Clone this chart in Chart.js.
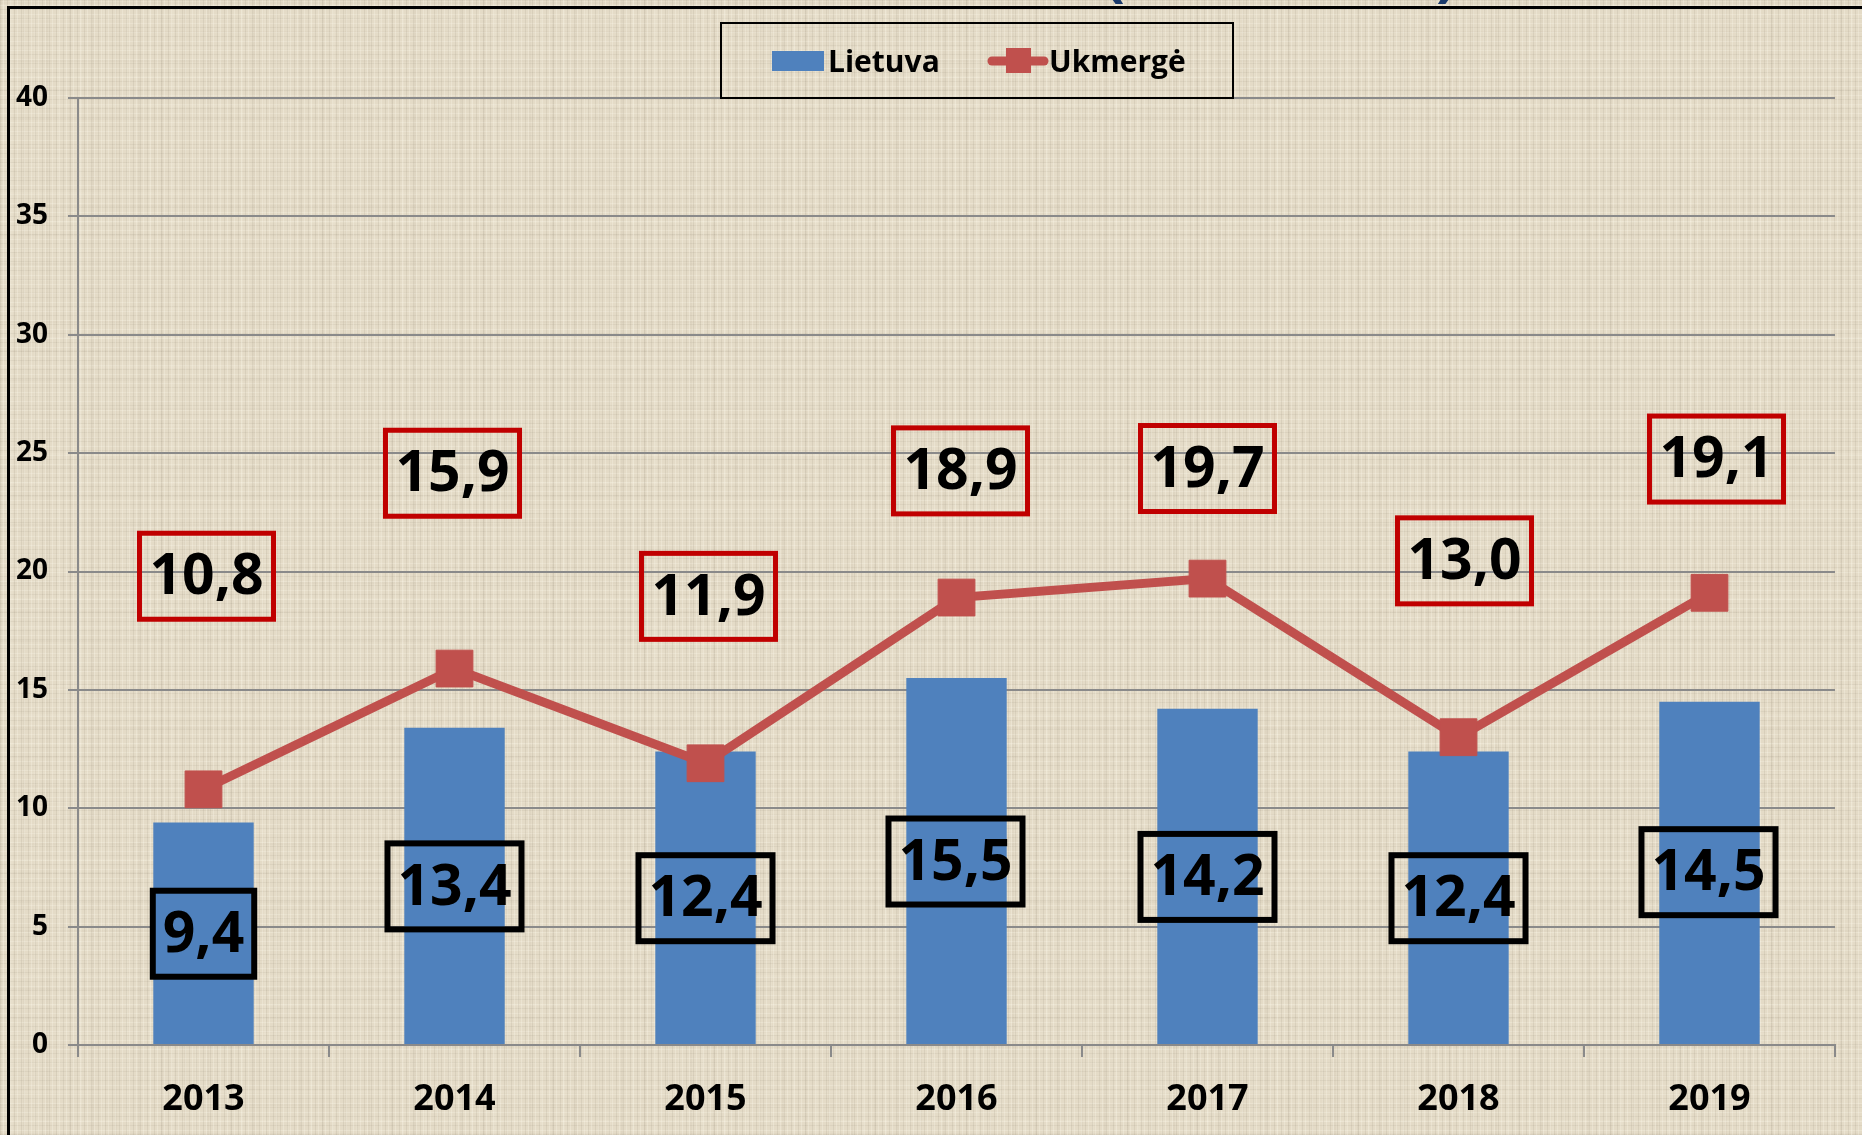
<!DOCTYPE html>
<html>
<head>
<meta charset="utf-8">
<script src="https://cdn.jsdelivr.net/npm/chart.js@4"></script>
<style>
  html, body { margin: 0; padding: 0; overflow: hidden; }
  body {
    width: 1862px; height: 1135px; position: relative;
    background-color: #e4dbc7;
    background-image:
      repeating-linear-gradient(90deg, rgba(110,100,80,0.10) 0 1px, transparent 1px 3px, rgba(255,252,240,0.25) 3px 4px, transparent 4px 7px),
      repeating-linear-gradient(0deg, rgba(110,100,80,0.08) 0 1px, transparent 1px 4px, rgba(255,252,240,0.22) 4px 5px, transparent 5px 9px),
      repeating-linear-gradient(90deg, rgba(120,105,85,0.05) 0 2px, transparent 2px 11px, rgba(255,250,235,0.12) 11px 13px, transparent 13px 23px),
      repeating-linear-gradient(0deg, rgba(120,105,85,0.04) 0 2px, transparent 2px 13px, rgba(255,250,235,0.10) 13px 15px, transparent 15px 29px);
  }
  #frame {
    position: absolute; left: 7px; top: 6px; width: 2000px; height: 1300px;
    border-left: 3px solid #000; border-top: 3px solid #000;
  }
  .paren {
    position: absolute; top: -60px; font: bold 62px "Open Sans"; line-height: 60px;
    color: #1b3a6b;
  }
  canvas { position: absolute; left: 0; top: 0; }
</style>
</head>
<body>
<div class="paren" style="left:1104px">(</div>
<div class="paren" style="left:1436px">)</div>
<div id="frame"></div>
<canvas id="chart" width="1862" height="1135"></canvas>
<script>
const years = ['2013', '2014', '2015', '2016', '2017', '2018', '2019'];
const lietuva = [9.4, 13.4, 12.4, 15.5, 14.2, 12.4, 14.5];
const ukmerge = [10.8, 15.9, 11.9, 18.9, 19.7, 13.0, 19.1];
const yTicks = [0, 5, 10, 15, 20, 25, 30, 35, 40];

// where the boxed labels sit (they were placed by hand in the original):
// y in axis units, x as a small pixel nudge from the category centre
const labelY = {
    lietuva: [4.7, 6.7, 6.2, 7.75, 7.1, 6.2, 7.3],
    ukmerge: [19.8, 24.15, 18.95, 24.25, 24.35, 20.45, 24.75]
};
const labelDX = {
    lietuva: [0, 0, 0, -1, 0, 0, -1],
    ukmerge: [3, -2, 3, 4, 0, 6, 7]
};

const BLUE = '#4f81bd';
const RED = '#c0504d';
const GRID = '#8a8a8a';

function fmt(v){
    return v.toFixed(1).replace('.', ',');
}

const boxLabels = {
    id: 'boxLabels',
    afterDatasetsDraw(chart){
        const ctx = chart.ctx;
        const y = chart.scales.y;
        ctx.save();
        ctx.font = 'bold 57px "Open Sans"';
        ctx.textAlign = 'center';
        ctx.textBaseline = 'middle';
        chart.data.datasets.forEach((ds, di) => {
            const meta = chart.getDatasetMeta(di);
            const pos = labelY[ds.key];
            meta.data.forEach((el, i) => {
                const txt = fmt(ds.data[i]);
                const w = ctx.measureText(txt).width + 20;
                const h = 86;
                const cx = el.x + labelDX[ds.key][i];
                const cy = y.getPixelForValue(pos[i]);
                ctx.lineWidth = ds.key == 'ukmerge' ? 5 : 6;
                ctx.strokeStyle = ds.key == 'ukmerge' ? '#c00000' : '#000';
                ctx.strokeRect(cx - w / 2, cy - h / 2, w, h);
                ctx.fillStyle = '#000';
                ctx.fillText(txt, cx, cy + 2);
            });
        });
        ctx.restore();
    }
};

const boxLegend = {
    id: 'boxLegend',
    afterDraw(chart){
        const ctx = chart.ctx;
        ctx.save();
        ctx.lineWidth = 2;
        ctx.strokeStyle = '#000';
        ctx.strokeRect(721, 23, 512, 75);

        ctx.fillStyle = BLUE;
        ctx.fillRect(772, 51, 52, 20);

        ctx.strokeStyle = RED;
        ctx.lineWidth = 9;
        ctx.lineCap = 'round';
        ctx.beginPath();
        ctx.moveTo(992, 61);
        ctx.lineTo(1044, 61);
        ctx.stroke();
        ctx.fillStyle = RED;
        ctx.fillRect(1006, 48, 25, 25);

        ctx.fillStyle = '#000';
        ctx.font = 'bold 30px "Open Sans"';
        ctx.textBaseline = 'middle';
        ctx.textAlign = 'left';
        ctx.fillText('Lietuva', 828, 63);
        ctx.fillText('Ukmergė', 1049, 63);
        ctx.restore();
    }
};

new Chart(document.getElementById('chart'), {
    data: {
        labels: years,
        datasets: [
            {
                type: 'line',
                key: 'ukmerge',
                label: 'Ukmergė',
                data: ukmerge,
                borderColor: RED,
                backgroundColor: RED,
                borderWidth: 9,
                tension: 0,
                pointStyle: 'rect',
                pointRadius: 26,
                pointBorderWidth: 1,
                order: 1
            },
            {
                type: 'bar',
                key: 'lietuva',
                label: 'Lietuva',
                data: lietuva,
                backgroundColor: BLUE,
                barPercentage: 0.4,
                categoryPercentage: 1,
                order: 2
            }
        ]
    },
    plugins: [boxLabels, boxLegend],
    options: {
        responsive: false,
        animation: false,
        layout: { padding: { top: 98, right: 22, left: 0, bottom: 0 } },
        plugins: {
            legend: { display: false },
            tooltip: { enabled: false }
        },
        scales: {
            x: {
                offset: true,
                afterFit(scale){
                    scale.height = 90;
                    scale.paddingLeft = 0;
                    scale.paddingRight = 0;
                },
                grid: {
                    offset: true,
                    drawOnChartArea: false,
                    drawTicks: true,
                    tickLength: 12,
                    color: GRID,
                    lineWidth: 2
                },
                border: { color: GRID, width: 2 },
                ticks: {
                    color: '#000',
                    padding: 21,
                    font: { family: 'Open Sans', weight: 'bold', size: 36 }
                }
            },
            y: {
                min: 0,
                max: 40,
                afterFit(scale){ scale.width = 78; },
                afterBuildTicks(scale){ scale.ticks = yTicks.map(v => ({ value: v })); },
                grid: {
                    color: GRID,
                    lineWidth: 2,
                    tickLength: 10
                },
                border: { color: GRID, width: 2 },
                ticks: {
                    color: '#000',
                    padding: 20,
                    font: { family: 'Open Sans', weight: 'bold', size: 28 }
                }
            }
        }
    }
});
</script>
</body>
</html>
